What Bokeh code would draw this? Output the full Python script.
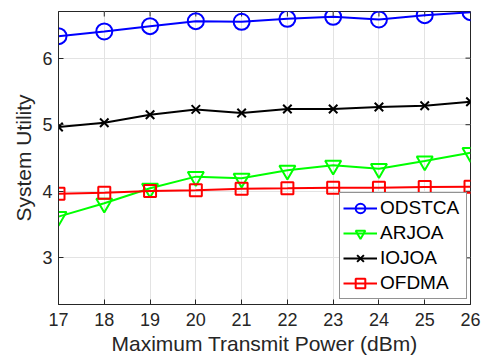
import math
from bokeh.plotting import figure
from bokeh.models import FixedTicker, Range1d, Legend, LegendItem
from bokeh.embed import file_html
from bokeh.resources import INLINE

power = [17, 18, 19, 20, 21, 22, 23, 24, 25, 26]
odstca = [6.33, 6.40, 6.48, 6.555, 6.545, 6.59, 6.62, 6.58, 6.645, 6.69]
arjoa = [3.62, 3.82, 4.045, 4.22, 4.195, 4.315, 4.39, 4.34, 4.455, 4.58]
iojoa = [4.965, 5.03, 5.15, 5.23, 5.175, 5.235, 5.235, 5.265, 5.285, 5.345]
ofdma = [3.965, 3.98, 4.005, 4.015, 4.04, 4.045, 4.055, 4.055, 4.065, 4.07]
y_ticks = [3, 4, 5, 6]
x_lim = (17, 26)
y_lim = (2.3, 6.7)

TXT = "#262626"
FONT = "Liberation Sans"

p = figure(width=488, height=360, output_backend="svg", toolbar_location=None,
           x_range=Range1d(*x_lim), y_range=Range1d(*y_lim),
           min_border_left=58, min_border_right=18, min_border_top=11, min_border_bottom=56)
p.background_fill_color = "white"
p.border_fill_color = "white"
p.outline_line_color = TXT
p.outline_line_width = 1

p.xaxis.axis_label = "Maximum Transmit Power (dBm)"
p.yaxis.axis_label = "System Utility"
p.xaxis.ticker = FixedTicker(ticks=power)
p.yaxis.ticker = FixedTicker(ticks=y_ticks)

for ax in p.xaxis + p.yaxis:
    ax.axis_line_color = TXT
    ax.major_tick_line_color = TXT
    ax.major_tick_in = 5
    ax.major_tick_out = 0
    ax.minor_tick_line_color = None
    ax.major_label_text_font = FONT
    ax.major_label_text_font_size = "18px"
    ax.major_label_text_color = TXT
    ax.axis_label_text_font = FONT
    ax.axis_label_text_font_size = "21px"
    ax.axis_label_text_color = TXT
    ax.axis_label_text_font_style = "normal"
p.xaxis.major_label_standoff = 8
p.xaxis.axis_label_standoff = 3
p.yaxis.major_label_standoff = 6
p.yaxis.axis_label_standoff = 4

# inward ticks on the top and right edges of the box
p.ray(x=[x_lim[1]] * len(y_ticks), y=y_ticks, length=5, length_units="screen",
      angle=math.pi, line_color=TXT, line_width=1)
p.ray(x=power, y=[y_lim[1]] * len(power), length=5, length_units="screen",
      angle=-math.pi / 2, line_color=TXT, line_width=1)

p.xgrid.grid_line_color = "#e3e3e3"
p.ygrid.grid_line_color = "#e3e3e3"

series = [
    ("ODSTCA", odstca, "#0000ff", "circle", 16),
    ("ARJOA", arjoa, "#00ff00", "inverted_triangle", 16),
    ("IOJOA", iojoa, "#000000", "x", 12),
    ("OFDMA", ofdma, "#ff0000", "square", 12),
]
items = []
for name, ys, col, mk, sz in series:
    l = p.line(power, ys, line_color=col, line_width=2)
    m = p.scatter(power, ys, marker=mk, size=sz, line_color=col, line_width=2, fill_color=None)
    items.append(LegendItem(label=name, renderers=[l, m]))

legend = Legend(items=items, location=(281, 5))
legend.border_line_color = TXT
legend.border_line_width = 1
legend.background_fill_color = "white"
legend.background_fill_alpha = 1
legend.label_text_font = FONT
legend.label_text_font_size = "19px"
legend.label_text_color = "black"
legend.glyph_width = 34
legend.glyph_height = 24
legend.label_height = 24
legend.label_width = 83
legend.spacing = 1
legend.padding = 3
legend.margin = 0
legend.label_standoff = 3
p.add_layout(legend)

open("out.html", "w").write(file_html(p, INLINE))
